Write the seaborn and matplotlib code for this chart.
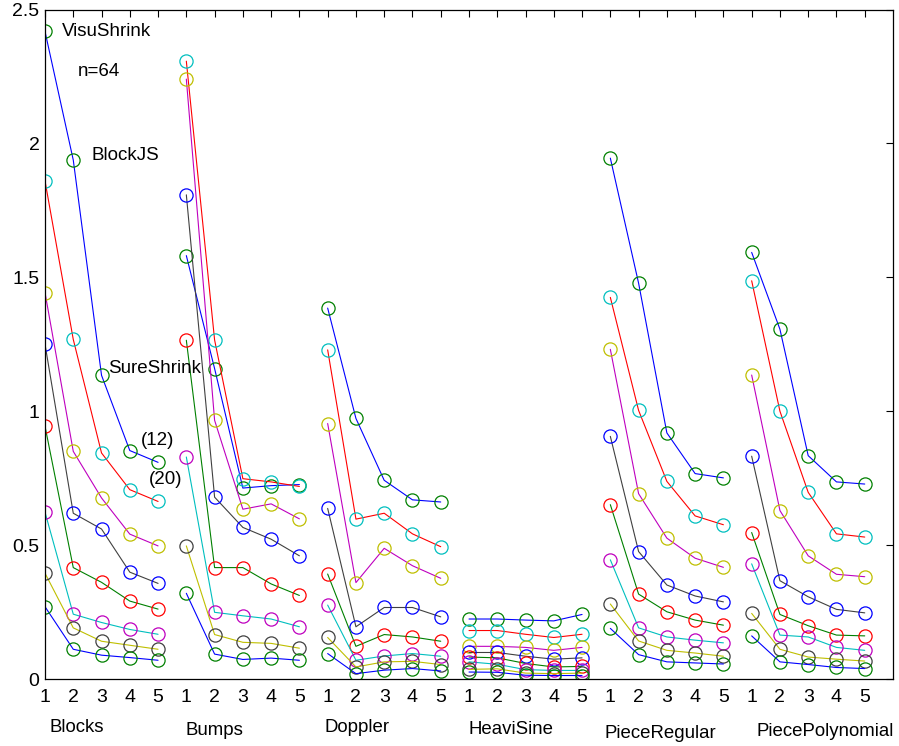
import matplotlib
matplotlib.use("Agg")
import matplotlib.pyplot as plt
import seaborn as sns
import pandas as pd

# ---------------- data ----------------
groups = ["Blocks", "Bumps", "Doppler", "HeaviSine", "PieceRegular", "PiecePolynomial"]
levels = ["1", "2", "3", "4", "5"]

blocks = [
    [2.418, 1.938, 1.134, 0.853, 0.809],
    [1.860, 1.268, 0.844, 0.707, 0.663],
    [1.443, 0.850, 0.676, 0.541, 0.497],
    [1.250, 0.619, 0.560, 0.399, 0.357],
    [0.944, 0.416, 0.361, 0.291, 0.261],
    [0.623, 0.242, 0.211, 0.185, 0.167],
    [0.395, 0.191, 0.141, 0.126, 0.111],
    [0.270, 0.111, 0.089, 0.080, 0.070],
]
bumps = [
    [1.581, 1.159, 0.713, 0.722, 0.726],
    [2.307, 1.266, 0.748, 0.736, 0.719],
    [2.240, 0.966, 0.634, 0.654, 0.598],
    [1.808, 0.679, 0.566, 0.522, 0.460],
    [1.265, 0.416, 0.416, 0.355, 0.312],
    [0.829, 0.249, 0.236, 0.224, 0.195],
    [0.497, 0.166, 0.137, 0.133, 0.115],
    [0.320, 0.093, 0.073, 0.078, 0.070],
]
doppler = [
    [1.385, 0.973, 0.742, 0.669, 0.661],
    [1.229, 0.597, 0.619, 0.542, 0.494],
    [0.954, 0.360, 0.488, 0.423, 0.376],
    [0.637, 0.195, 0.267, 0.267, 0.232],
    [0.392, 0.122, 0.166, 0.157, 0.141],
    [0.276, 0.070, 0.086, 0.095, 0.085],
    [0.155, 0.045, 0.064, 0.066, 0.054],
    [0.095, 0.020, 0.033, 0.039, 0.030],
]
heavisine = [
    [0.224, 0.224, 0.220, 0.217, 0.241],
    [0.181, 0.181, 0.167, 0.155, 0.167],
    [0.122, 0.122, 0.118, 0.107, 0.118],
    [0.099, 0.099, 0.085, 0.074, 0.079],
    [0.082, 0.079, 0.058, 0.045, 0.047],
    [0.064, 0.055, 0.035, 0.032, 0.032],
    [0.036, 0.038, 0.022, 0.020, 0.022],
    [0.026, 0.025, 0.014, 0.013, 0.013],
]
pieceregular = [
    [1.945, 1.478, 0.919, 0.767, 0.751],
    [1.425, 1.003, 0.738, 0.609, 0.576],
    [1.231, 0.692, 0.526, 0.451, 0.417],
    [0.906, 0.476, 0.351, 0.310, 0.288],
    [0.651, 0.317, 0.251, 0.220, 0.201],
    [0.445, 0.191, 0.157, 0.145, 0.135],
    [0.280, 0.142, 0.107, 0.097, 0.085],
    [0.189, 0.091, 0.064, 0.060, 0.056],
]
piecepolynomial = [
    [1.593, 1.306, 0.834, 0.736, 0.728],
    [1.487, 1.000, 0.697, 0.542, 0.530],
    [1.135, 0.629, 0.460, 0.391, 0.382],
    [0.832, 0.367, 0.307, 0.260, 0.247],
    [0.547, 0.241, 0.199, 0.164, 0.161],
    [0.430, 0.164, 0.157, 0.118, 0.107],
    [0.245, 0.111, 0.082, 0.074, 0.067],
    [0.161, 0.064, 0.054, 0.043, 0.039],
]
group_values = [blocks, bumps, doppler, heavisine, pieceregular, piecepolynomial]

annotations = ["VisuShrink", "n=64", "BlockJS", "SureShrink", "(12)", "(20)"]

# ---------------- style ----------------
sns.set_style("white")
plt.rcParams["font.family"] = ["Liberation Sans", "DejaVu Sans"]
plt.rcParams["text.color"] = "black"
plt.rcParams["axes.labelcolor"] = "black"
plt.rcParams["xtick.color"] = "black"
plt.rcParams["ytick.color"] = "black"

M = {
    "b": (0, 0, 1), "g": (0, 0.5, 0), "r": (1, 0, 0), "c": (0, 0.75, 0.75),
    "m": (0.75, 0, 0.75), "y": (0.75, 0.75, 0), "k": (0.25, 0.25, 0.25),
}
line_colors = [M[c] for c in "brmkgcyb"]
marker_colors = [M[c] for c in "gcybrmkg"]

rows = []
for gi, (g, vals) in enumerate(zip(groups, group_values)):
    for si, series in enumerate(vals):
        for li, v in enumerate(series):
            rows.append({"group": g, "series": si, "pos": gi * 5 + li + 1, "value": v})
df = pd.DataFrame(rows)

fig = plt.figure(figsize=(8.99, 7.46), dpi=100)
ax = fig.add_axes([45 / 899, 1 - 679 / 746, (893 - 45) / 899, (679 - 9.5) / 746])

for g in groups:
    for si in range(8):
        d = df[(df.group == g) & (df.series == si)]
        sns.lineplot(data=d, x="pos", y="value", ax=ax, color=line_colors[si],
                     linewidth=0.8, estimator=None, sort=False, legend=False)
        sns.lineplot(data=d, x="pos", y="value", ax=ax, color=marker_colors[si],
                     linestyle="none", marker="o", markersize=9.5,
                     markerfacecolor="none", markeredgecolor=marker_colors[si],
                     markeredgewidth=0.9, estimator=None, sort=False, legend=False)

ax.set_xlim(1, 31)
ax.set_ylim(0, 2.5)
ax.set_xticks(range(1, 31))
ax.set_xticklabels(levels * len(groups))
yt = [0, 0.5, 1, 1.5, 2, 2.5]
ax.set_yticks(yt)
ax.set_yticklabels(["%g" % t for t in yt])
ax.set_xlabel("")
ax.set_ylabel("")
ax.tick_params(direction="in", length=5, width=0.8, top=True, right=True,
               labelsize=14, colors="black")
ax.tick_params(axis="x", pad=7)
ax.tick_params(axis="y", pad=4)
for s in ax.spines.values():
    s.set_visible(True)
    s.set_color("black")
    s.set_linewidth(0.9)

# group names under the axis
name_x = [1.15, 5.97, 10.9, 16.0, 20.8, 26.17]
name_y = [-0.182, -0.192, -0.182, -0.190, -0.204, -0.196]
for name, x, y in zip(groups, name_x, name_y):
    ax.text(x, y, name, fontsize=13.4, ha="left", va="center", clip_on=False,
            color="black")

ann_x = [1.6, 2.16, 2.66, 3.22, 4.38, 4.67]
ann_y = [2.418, 2.268, 1.955, 1.160, 0.890, 0.744]
for t, x, y in zip(annotations, ann_x, ann_y):
    ax.text(x, y, t, fontsize=13.5, ha="left", va="center", color="black")

fig.savefig("out.png", dpi=100)
